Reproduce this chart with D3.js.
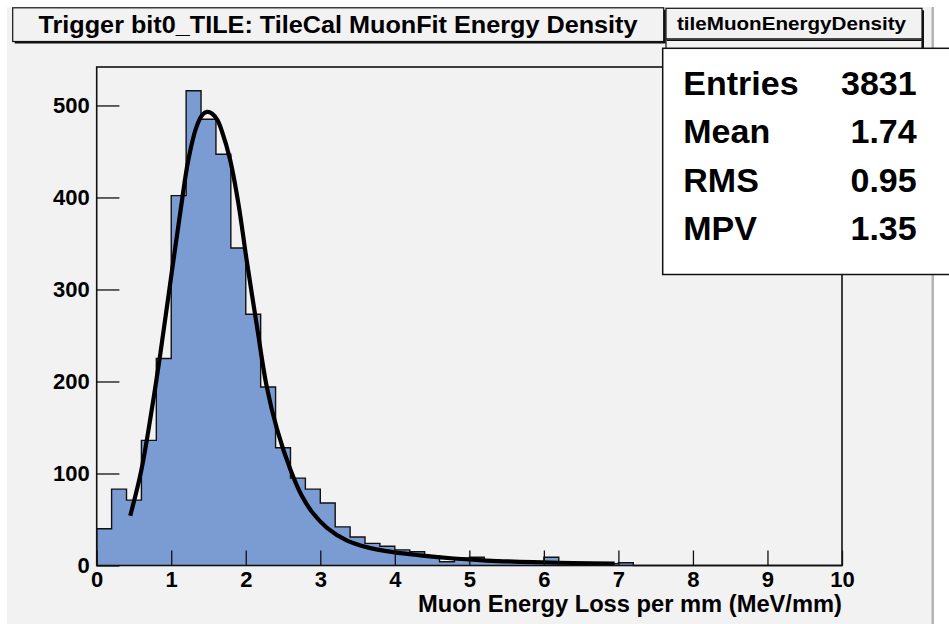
<!DOCTYPE html>
<html>
<head>
<meta charset="utf-8">
<script src="https://cdn.jsdelivr.net/npm/d3@7"></script>
<style>
  html, body { margin: 0; padding: 0; background: #ffffff; }
  svg { display: block; }
  text { font-family: "Liberation Sans", Arial, Helvetica, sans-serif; font-weight: bold; fill: #000; }
</style>
</head>
<body>
<svg id="chart" width="949" height="624"></svg>
<script>
// Histogram: 50 bins of width 0.2 MeV/mm between 0 and 10
const binLow = 0, binWidth = 0.2;
const binCounts = [
  40, 83, 71, 136, 225, 402, 516, 485, 447, 345,
  273, 194, 128, 95, 83, 68, 42, 31, 24, 21,
  17, 15, 10, 4, 8, 9, 6, 5, 5, 4,
  9, 2, 2, 2, 2, 3, 0, 0, 0, 0,
  0, 0, 0, 0, 0, 0, 0, 0, 0, 0
];

// Landau fit curve, sampled points (x in MeV/mm, y in entries)
const fitX = [0.45, 0.60, 0.74, 0.85, 0.98, 1.12, 1.23, 1.34, 1.42, 1.48, 1.55, 1.62, 1.68, 1.79, 1.90, 2.01,
              2.15, 2.28, 2.42, 2.60, 2.75, 2.90, 3.09, 3.36, 3.62, 3.98, 4.34, 4.79, 5.23, 5.86, 6.40, 6.95];
const fitY = [54, 104, 170, 228, 303, 383, 441, 477, 490, 493, 491, 484, 472, 441, 394, 333,
              260, 195, 148, 104, 76, 57, 41, 27, 20, 14.5, 11, 7.6, 5.4, 3.6, 2.7, 2.1];

// Axis ticks
const xMajorTicks = [0, 1, 2, 3, 4, 5, 6, 7, 8, 9, 10];
const xMinorTicks = d3.range(0, 10.001, 0.2).map(v => +v.toFixed(1));
const yMajorTicks = [0, 100, 200, 300, 400, 500];
const yMinorTicks = d3.range(0, 541, 20);

// Text
const titleText = "Trigger bit0_TILE: TileCal MuonFit Energy Density";
const histName = "tileMuonEnergyDensity";
const xAxisTitle = "Muon Energy Loss per mm (MeV/mm)";
const statLabels = ["Entries", "Mean", "RMS", "MPV"];
const statValues = ["3831", "1.74", "0.95", "1.35"];

const yMax = d3.max(binCounts) * 1.05;

const svg = d3.select("#chart");

// canvas background and right edge
svg.append("rect").attr("x", 7).attr("y", 7).attr("width", 925).attr("height", 620).attr("fill", "#f2f2f2");
svg.append("rect").attr("x", 931.5).attr("y", 7).attr("width", 2.5).attr("height", 620).attr("fill", "#b4b4b4");

const frame = { left: 96.7, right: 842, top: 67, bottom: 565.5 };
const x = d3.scaleLinear().domain([0, 10]).range([frame.left, frame.right]);
const y = d3.scaleLinear().domain([0, yMax]).range([frame.bottom, frame.top]);

// histogram as step area + step outline
const bins = binCounts.map((c, i) => ({ x0: binLow + i * binWidth, c }));
const stepPts = [];
bins.forEach(b => { stepPts.push([b.x0, b.c]); stepPts.push([b.x0 + binWidth, b.c]); });

const area = d3.area().x(d => x(d[0])).y0(y(0)).y1(d => y(d[1]));
svg.append("path").datum(stepPts).attr("d", area).attr("fill", "#7b9bd3");

const outline = d3.line().x(d => x(d[0])).y(d => y(d[1]));
svg.append("path")
  .datum([[0, 0], ...stepPts, [10, 0]])
  .attr("d", outline).attr("fill", "none").attr("stroke", "#111").attr("stroke-width", 1.4);

// fit curve
const fitPts = fitX.map((v, i) => [v, fitY[i]]);
svg.append("path")
  .datum(fitPts)
  .attr("d", d3.line().x(d => x(d[0])).y(d => y(d[1])).curve(d3.curveCatmullRom.alpha(0.5)))
  .attr("fill", "none").attr("stroke", "#000").attr("stroke-width", 4.2).attr("stroke-linejoin", "round");

// axes
const xAxisG = svg.append("g").attr("transform", `translate(0,${frame.bottom})`);
xAxisG.call(d3.axisBottom(x).tickValues(xMinorTicks).tickSize(-8).tickFormat(""));
xAxisG.call(d3.axisBottom(x).tickValues(xMajorTicks).tickSize(-15).tickPadding(6).tickFormat(d3.format("d")));
xAxisG.selectAll(".domain").remove();
xAxisG.selectAll("line").attr("stroke", "#111").attr("stroke-width", 1.3);
xAxisG.selectAll("text").attr("font-size", 22).attr("font-family", null);

const yAxisG = svg.append("g").attr("transform", `translate(${frame.left},0)`);
yAxisG.call(d3.axisLeft(y).tickValues(yMinorTicks).tickSize(-11.7).tickFormat(""));
yAxisG.call(d3.axisLeft(y).tickValues(yMajorTicks).tickSize(-22.7).tickPadding(7).tickFormat(d3.format("d")));
yAxisG.selectAll(".domain").remove();
yAxisG.selectAll("line").attr("stroke", "#111").attr("stroke-width", 1.3);
yAxisG.selectAll("text").attr("font-size", 22).attr("font-family", null);

// frame
svg.append("rect")
  .attr("x", frame.left).attr("y", frame.top)
  .attr("width", frame.right - frame.left).attr("height", frame.bottom - frame.top)
  .attr("fill", "none").attr("stroke", "#111").attr("stroke-width", 1.6);

// x axis title
svg.append("text").attr("x", frame.right).attr("y", 611.5).attr("text-anchor", "end")
  .attr("font-size", 23).attr("textLength", 424).attr("lengthAdjust", "spacingAndGlyphs").text(xAxisTitle);

// title pave with shadow
function pave(x0, y0, w, h, fill) {
  svg.append("rect").attr("x", x0 + 2).attr("y", y0 + 2).attr("width", w).attr("height", h).attr("fill", "#111");
  svg.append("rect").attr("x", x0).attr("y", y0).attr("width", w).attr("height", h)
    .attr("fill", fill).attr("stroke", "#111").attr("stroke-width", 1.2);
}
pave(12.7, 7.8, 651, 33.7, "#f2f2f2");
svg.append("text").attr("x", 338).attr("y", 33.3).attr("text-anchor", "middle")
  .attr("font-size", 24.5).attr("textLength", 599).attr("lengthAdjust", "spacingAndGlyphs").text(titleText);

// statistics pave of the histogram (name row)
pave(666, 8.3, 256, 230, "#f2f2f2");
svg.append("line").attr("x1", 666).attr("x2", 922).attr("y1", 38.8).attr("y2", 38.8).attr("stroke", "#111").attr("stroke-width", 1.2);
svg.append("rect").attr("x", 666.6).attr("y", 39.4).attr("width", 255).attr("height", 1.6).attr("fill", "#111");
svg.append("text").attr("x", 791.5).attr("y", 30).attr("text-anchor", "middle")
  .attr("font-size", 17.5).attr("textLength", 229).attr("lengthAdjust", "spacingAndGlyphs").text(histName);

// fit statistics box
svg.append("rect").attr("x", 662.7).attr("y", 48.3).attr("width", 300).attr("height", 226.2)
  .attr("fill", "#ffffff").attr("stroke", "#111").attr("stroke-width", 1.5);
const rowY = d3.scalePoint().domain(statLabels).range([95, 240]);
statLabels.forEach((lab, i) => {
  svg.append("text").attr("x", 683.3).attr("y", rowY(lab)).attr("font-size", 34).text(lab);
  svg.append("text").attr("x", 916.7).attr("y", rowY(lab)).attr("font-size", 34)
    .attr("text-anchor", "end").text(statValues[i]);
});
</script>
</body>
</html>
